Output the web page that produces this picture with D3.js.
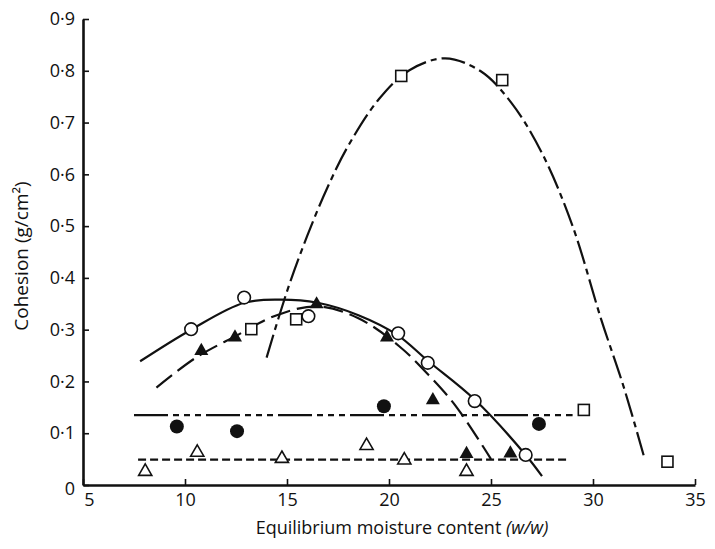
<!DOCTYPE html>
<meta charset="utf-8">
<script src="https://d3js.org/d3.v7.min.js"></script>
<style>
body {
  margin: 0;
  background: #fff;
}
text {
  font-family: "Open Sans", Lato, sans-serif;
  fill: #111;
}
.tick text {
  font-size: 18px;
}
.domain {
  stroke: #111;
  stroke-width: 2.6px;
}
.tick line {
  stroke: #111;
  stroke-width: 1.6px;
}
.fit {
  fill: none;
  stroke: #111;
  stroke-width: 2.2px;
}
</style>
<svg width="715" height="549" id="vis"></svg>
<script>

// ticks
var xTicks = [5, 10, 15, 20, 25, 30, 35];
var yTicks = [0, 0.1, 0.2, 0.3, 0.4, 0.5, 0.6, 0.7, 0.8, 0.9];

// points (x = moisture, y = cohesion)
var openCircleX = [10.3, 12.9, 16.05, 20.45, 21.9, 24.2, 26.7];
var openCircleY = [0.301, 0.362, 0.326, 0.293, 0.236, 0.162, 0.058];

var filledTriX = [10.8, 12.45, 16.45, 19.9, 22.15, 23.8, 25.95];
var filledTriY = [0.259, 0.285, 0.349, 0.285, 0.164, 0.060, 0.061];

var squareX = [13.25, 15.45, 20.6, 25.55, 29.55, 33.65];
var squareY = [0.301, 0.320, 0.790, 0.782, 0.145, 0.045];

var filledCircleX = [9.6, 12.55, 19.75, 27.35];
var filledCircleY = [0.113, 0.104, 0.152, 0.118];

var openTriX = [8.05, 10.6, 14.75, 18.9, 20.75, 23.8];
var openTriY = [0.026, 0.063, 0.051, 0.076, 0.048, 0.026];

// the hand drawn fit lines, traced point by point
var solidFitX = [7.8, 10.3, 12.9, 14.7, 16.5, 18.5, 20.4, 21.9, 24.2, 26.7, 27.5];
var solidFitY = [0.239, 0.300, 0.352, 0.358, 0.352, 0.328, 0.290, 0.240, 0.165, 0.058, 0.017];

var longDashFitX = [8.6, 10.5, 12.5, 14.5, 16.5, 18.5, 20.5, 22.0, 23.3, 25.0];
var longDashFitY = [0.188, 0.245, 0.288, 0.328, 0.345, 0.322, 0.268, 0.210, 0.151, 0.050];

var dashDotFitX = [14.0, 15, 16, 17, 18, 19.5, 21, 22.75, 24.5, 26, 27.5, 29, 30.4, 31.5, 32.5];
var dashDotFitY = [0.246, 0.374, 0.482, 0.576, 0.655, 0.745, 0.801, 0.824, 0.799, 0.738, 0.641, 0.500, 0.320, 0.190, 0.055];

var flatDashDotX = [7.5, 29.0];
var flatDashDotY = [0.135, 0.135];

var flatDashX = [7.7, 28.7];
var flatDashY = [0.049, 0.049];

function pairs(xs, ys) {
  return xs.map(function(d, i) { return [d, ys[i]]; });
}

var svg = d3.select("svg"),
    g = svg.append("g");

var x = d3.scaleLinear()
    .domain([5, 35])
    .range([83, 695]);

var y = d3.scaleLinear()
    .domain([0, 0.9])
    .range([485, 19]);

var line = d3.line()
    .x(function(d) { return x(d[0]); })
    .y(function(d) { return y(d[1]); })
    .curve(d3.curveCatmullRom);

// fit lines first so markers sit on top
g.append("path")
    .datum(pairs(solidFitX, solidFitY))
    .attr("class", "fit")
    .attr("d", line);

g.append("path")
    .datum(pairs(longDashFitX, longDashFitY))
    .attr("class", "fit")
    .attr("stroke-dasharray", "20,7")
    .attr("d", line);

g.append("path")
    .datum(pairs(dashDotFitX, dashDotFitY))
    .attr("class", "fit")
    .attr("stroke-dasharray", "24,5,6,5")
    .attr("d", line);

g.append("path")
    .datum(pairs(flatDashDotX, flatDashDotY))
    .attr("class", "fit")
    .attr("stroke-dasharray", "34,5,6,5,6,5,6,5")
    .attr("d", line);

g.append("path")
    .datum(pairs(flatDashX, flatDashY))
    .attr("class", "fit")
    .attr("stroke-dasharray", "8,4")
    .attr("d", line);

// markers
g.selectAll("circle.open")
    .data(pairs(openCircleX, openCircleY))
    .enter()
    .append("circle")
    .attr("class", "open")
    .attr("cx", function(d) { return x(d[0]); })
    .attr("cy", function(d) { return y(d[1]); })
    .attr("r", 6.3)
    .attr("fill", "#fff")
    .attr("stroke", "#111")
    .attr("stroke-width", 1.6);

g.selectAll("circle.filled")
    .data(pairs(filledCircleX, filledCircleY))
    .enter()
    .append("circle")
    .attr("class", "filled")
    .attr("cx", function(d) { return x(d[0]); })
    .attr("cy", function(d) { return y(d[1]); })
    .attr("r", 7)
    .attr("fill", "#111");

g.selectAll("rect.sq")
    .data(pairs(squareX, squareY))
    .enter()
    .append("rect")
    .attr("class", "sq")
    .attr("x", function(d) { return x(d[0]) - 5.5; })
    .attr("y", function(d) { return y(d[1]) - 5.5; })
    .attr("width", 11)
    .attr("height", 11)
    .attr("fill", "#fff")
    .attr("stroke", "#111")
    .attr("stroke-width", 1.6);

var tri = d3.symbol().type(d3.symbolTriangle).size(85);

g.selectAll("path.tri-filled")
    .data(pairs(filledTriX, filledTriY))
    .enter()
    .append("path")
    .attr("class", "tri-filled")
    .attr("transform", function(d) { return "translate(" + x(d[0]) + "," + y(d[1]) + ")"; })
    .attr("d", tri)
    .attr("fill", "#111");

g.selectAll("path.tri-open")
    .data(pairs(openTriX, openTriY))
    .enter()
    .append("path")
    .attr("class", "tri-open")
    .attr("transform", function(d) { return "translate(" + x(d[0]) + "," + y(d[1]) + ")"; })
    .attr("d", d3.symbol().type(d3.symbolTriangle).size(75))
    .attr("fill", "#fff")
    .attr("stroke", "#111")
    .attr("stroke-width", 1.6);

// axes, ticks point inwards like the printed figure
var xAxis = svg.append("g")
    .attr("transform", "translate(0," + y(0) + ")")
    .call(d3.axisBottom(x)
        .tickValues(xTicks)
        .tickSizeInner(-6)
        .tickSizeOuter(0)
        .tickPadding(8));

xAxis.selectAll(".tick text")
    .filter(function(d) { return d === 5; })
    .attr("dx", 6);

var yAxis = svg.append("g")
    .attr("transform", "translate(" + x(5) + ",0)")
    .call(d3.axisLeft(y)
        .tickValues(yTicks)
        .tickSizeInner(-6)
        .tickSizeOuter(0)
        .tickPadding(8)
        .tickFormat(function(d) { return d === 0 ? "0" : d3.format(".1f")(d).replace(".", "\u00b7"); }));

yAxis.selectAll(".tick text")
    .filter(function(d) { return d === 0; })
    .attr("dy", "0.5em");

// axis titles
var xt = svg.append("text")
    .attr("x", 402)
    .attr("y", 534)
    .attr("text-anchor", "middle")
    .attr("font-size", "18px");
xt.append("tspan").text("Equilibrium moisture content ");
xt.append("tspan").attr("font-style", "italic").text("(w/w)");

svg.append("text")
    .attr("transform", "translate(28,256) rotate(-90)")
    .attr("text-anchor", "middle")
    .attr("font-size", "19px")
    .text("Cohesion (g/cm\u00b2)");

</script>
